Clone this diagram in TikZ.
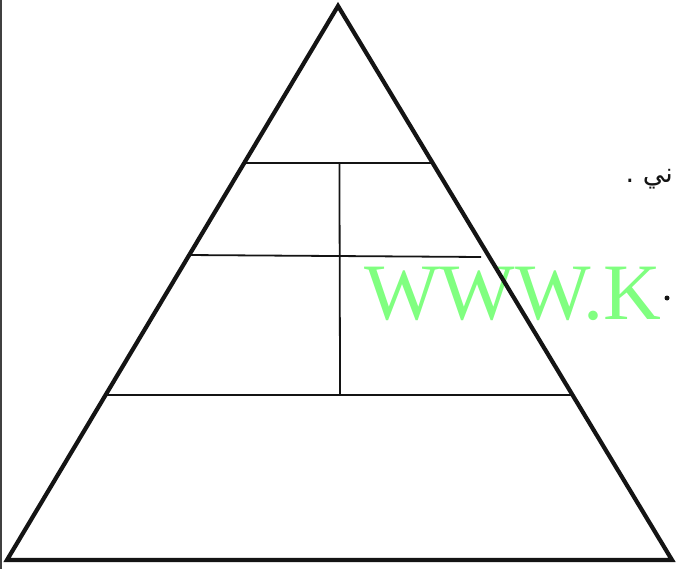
\documentclass[tikz,border=0pt]{standalone}
\usepackage{fontspec}
\setmainfont{Liberation Serif}
\newfontfamily\arabicfont[Script=Arabic]{DejaVu Sans}
\TeXXeTstate=1
\usetikzlibrary{calc}
\definecolor{wmgreen}{RGB}{128,255,128}
\definecolor{inkblack}{RGB}{20,20,20}
\begin{document}
\begin{tikzpicture}[x=1pt,y=-1pt,
  outline/.style={draw=inkblack, line width=4.2pt, line join=miter},
  divider/.style={draw=inkblack, line width=1.8pt},
  wmtext/.style={text=wmgreen, inner sep=0pt, font=\fontsize{80}{80}\selectfont},
  artext/.style={text=inkblack, inner sep=0pt, font=\fontsize{27}{27}\selectfont},
  dotmark/.style={circle, fill=inkblack, inner sep=0pt, minimum size=5pt}
]
\useasboundingbox (0,0) rectangle (676,569);
\fill[white] (0,0) rectangle (676,569);
\begin{scope}
\clip (0,0) rectangle (676,569);
% scan edge
\draw[black!75, line width=1.5pt] (0.8,0) -- (0.8,569);
% watermark
\node[wmtext, anchor=base west] (wm) at (364,319) {WWW.K};
\node[dotmark] (dot) at (667,298) {};
% Arabic fragment
\node[artext, anchor=base east] (ar) at (673,183) {\arabicfont\beginR ني .\endR};
% triangle
\coordinate (apex) at (338,6);
\coordinate (bl) at (7,560);
\coordinate (br) at (672,560);
\coordinate (l1) at ($(apex)!0.2834!(bl)$);
\coordinate (r1) at ($(apex)!0.2834!(br)$);
\coordinate (l2) at ($(apex)!0.4495!(bl)$);
\coordinate (r2) at (481,257);
\coordinate (l3) at ($(apex)!0.7022!(bl)$);
\coordinate (r3) at ($(apex)!0.7022!(br)$);
\coordinate (vt) at ($(l1)!0.5!(r1)+(1,0)$);
\coordinate (vb) at ($(l3)!0.5!(r3)+(1,0)$);
\draw[divider] (l1) -- (r1);
\draw[divider] (l2) -- (r2);
\draw[divider] (l3) -- (r3);
\draw[divider] (vt) -- (vb);
\draw[outline] (apex) -- (bl) -- (br) -- cycle;
\end{scope}
\end{tikzpicture}
\end{document}
